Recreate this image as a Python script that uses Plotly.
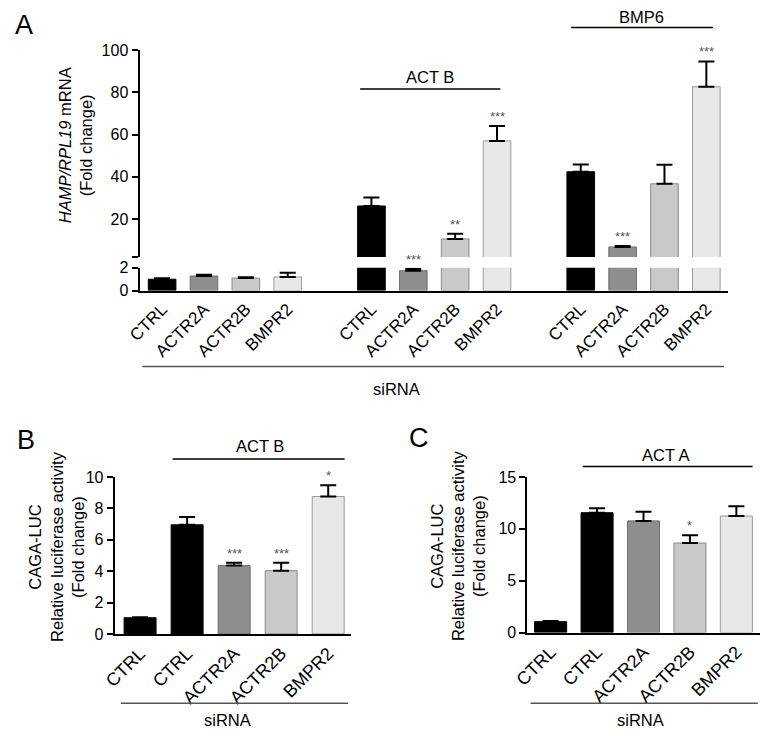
import plotly.graph_objects as go

W, H = 762, 736
FONT = "Liberation Sans, Arial, sans-serif"

# ---------------- data ----------------
A_groups = ["", "ACT B", "BMP6"]
A_sirna = ["CTRL", "ACTR2A", "ACTR2B", "BMPR2"]
A_values = [[1.00, 1.28, 1.10, 1.20],
            [26.2, 1.75, 10.6, 57.0],
            [42.4, 6.8, 36.7, 82.6]]
A_errors = [[0.08, 0.12, 0.08, 0.37],
            [4.0, 0.18, 2.5, 7.0],
            [3.4, 0.4, 9.0, 12.0]]
A_stars = [["", "", "", ""],
           ["", "***", "**", "***"],
           ["", "***", "", "***"]]

B_labels = ["CTRL", "CTRL", "ACTR2A", "ACTR2B", "BMPR2"]
B_values = [1.03, 6.95, 4.35, 4.03, 8.75]
B_errors = [0.03, 0.50, 0.18, 0.50, 0.72]
B_stars = ["", "", "***", "***", "*"]

C_labels = ["CTRL", "CTRL", "ACTR2A", "ACTR2B", "BMPR2"]
C_values = [1.05, 11.55, 10.76, 8.63, 11.23]
C_errors = [0.05, 0.42, 0.88, 0.75, 0.94]
C_stars = ["", "", "", "*", ""]

COLORS = {"CTRL": "#000000", "ACTR2A": "#8e8e8e", "ACTR2B": "#c9c9c9", "BMPR2": "#e7e7e7"}
EDGE = {"CTRL": "#000000", "ACTR2A": "#6e6e6e", "ACTR2B": "#8a8a8a", "BMPR2": "#9a9a9a"}


def py(p):
    return 1 - p / H


def px(p):
    return p / W


fig = go.Figure()


def err_dict(arr):
    return dict(type="data", array=arr, arrayminus=[0] * len(arr), symmetric=False,
                color="black", thickness=2, width=8)


# ---------------- Panel A ----------------
slots, labs, vals, errs, stars = [], [], [], [], []
for g, grp in enumerate(A_groups):
    for i, name in enumerate(A_sirna):
        slots.append(g * 5 + i)
        labs.append(name)
        vals.append(A_values[g][i])
        errs.append(A_errors[g][i])
        stars.append(A_stars[g][i])

small = [k for k in range(len(vals)) if vals[k] < 2]
big = [k for k in range(len(vals)) if vals[k] >= 2]

fig.add_trace(go.Bar(x=[slots[k] for k in small], y=[vals[k] for k in small],
                     width=0.66, xaxis="x", yaxis="y",
                     marker=dict(color=[COLORS[labs[k]] for k in small],
                                 line=dict(color=[EDGE[labs[k]] for k in small], width=1)),
                     error_y=err_dict([errs[k] for k in small]), showlegend=False))
fig.add_trace(go.Bar(x=[slots[k] for k in big], y=[vals[k] for k in big],
                     width=0.66, xaxis="x", yaxis="y",
                     marker=dict(color=[COLORS[labs[k]] for k in big],
                                 line=dict(color=[EDGE[labs[k]] for k in big], width=1)),
                     showlegend=False))
fig.add_trace(go.Bar(x=[slots[k] for k in big], y=[vals[k] for k in big],
                     width=0.66, xaxis="x", yaxis="y2",
                     marker=dict(color=[COLORS[labs[k]] for k in big],
                                 line=dict(color=[EDGE[labs[k]] for k in big], width=1)),
                     error_y=err_dict([errs[k] for k in big]), showlegend=False))

annotations = []
for k in range(len(vals)):
    if stars[k]:
        annotations.append(dict(x=slots[k], y=vals[k] + errs[k], xref="x",
                                yref="y" if vals[k] < 2 else "y2",
                                text=stars[k], showarrow=False, yanchor="bottom",
                                font=dict(size=13, color="#555555", family=FONT)))


# ---------------- Panels B, C ----------------
def small_panel(labels, values, errors, st, xa, ya, width):
    n = len(values)
    xs = list(range(n))
    fig.add_trace(go.Bar(x=xs, y=values, width=width, xaxis=xa, yaxis=ya,
                         marker=dict(color=[COLORS[l] for l in labels],
                                     line=dict(color=[EDGE[l] for l in labels], width=1)),
                         error_y=err_dict(errors), showlegend=False))
    for k in range(n):
        if st[k]:
            annotations.append(dict(x=xs[k], y=values[k] + errors[k], xref=xa, yref=ya,
                                    text=st[k], showarrow=False, yanchor="bottom",
                                    font=dict(size=13, color="#555555", family=FONT)))


small_panel(B_labels, B_values, B_errors, B_stars, "x2", "y3", 0.68)
small_panel(C_labels, C_values, C_errors, C_stars, "x3", "y4", 0.69)

# ---------------- axes ----------------
axis_common = dict(showline=True, linecolor="black", linewidth=2, showgrid=False,
                   zeroline=False, tickfont=dict(size=16, family=FONT, color="black"))
yax = dict(axis_common, ticks="outside", ticklen=6, tickwidth=2, tickcolor="black")
xax = dict(axis_common, ticks="", tickangle=-45)

fig.update_layout(
    xaxis=dict(xax, domain=[px(127), px(727)], range=[-0.54, 13.51], anchor="y",
               tickvals=slots, ticktext=labs, tickfont=dict(size=17, family=FONT)),
    yaxis=dict(yax, domain=[py(289.3), py(266)], range=[0, 2], tickvals=[0, 2], anchor="x"),
    yaxis2=dict(yax, domain=[py(255), py(43)], range=[2, 100],
                tickvals=[2, 20, 40, 60, 80, 100], ticktext=["", "20", "40", "60", "80", "100"],
                anchor="x"),
    xaxis2=dict(xax, domain=[px(101.7), px(343)], range=[-0.54, 4.49], anchor="y3",
                tickvals=list(range(len(B_labels))), ticktext=B_labels,
                tickfont=dict(size=18, family=FONT)),
    yaxis3=dict(yax, domain=[py(640.7), py(480)], range=[0, 10], dtick=2, anchor="x2"),
    xaxis3=dict(xax, domain=[px(522.7), px(760)], range=[-0.5, 4.51], anchor="y4",
                tickvals=list(range(len(C_labels))), ticktext=C_labels,
                tickfont=dict(size=18, family=FONT)),
    yaxis4=dict(yax, domain=[py(639.3), py(480)], range=[0, 15], dtick=5, anchor="x3"),
)

# ---------------- lines and texts ----------------
shapes = []


def hline(xref, x0, x1, ypx, color="black", w=1.5):
    shapes.append(dict(type="line", xref=xref, yref="paper", x0=x0, x1=x1,
                       y0=py(ypx), y1=py(ypx), line=dict(color=color, width=w)))


def text(xref, x, ypx, s, size=16.5):
    annotations.append(dict(x=x, y=py(ypx), xref=xref, yref="paper", text=s, showarrow=False,
                            xanchor="center", yanchor="middle",
                            font=dict(size=size, family=FONT, color="black")))


# Panel A
hline("x", 4.73, 8.08, 83)
text("x", 6.4, 71, "ACT B")
hline("x", 9.77, 13.16, 20)
text("x", 11.46, 9, "BMP6")
hline("x", -0.47, 13.42, 367, color="#555555")
text("x", 5.6, 390, "siRNA")
# Panel B
hline("x2", 0.69, 4.35, 461.7)
text("x2", 2.55, 448, "ACT B")
hline("x2", -0.41, 4.42, 711.7, color="#555555")
text("x2", 1.85, 729, "siRNA")
# Panel C
hline("x3", 0.69, 4.35, 469.3)
text("x3", 2.48, 458, "ACT A")
hline("x3", -0.43, 4.46, 711.7, color="#555555")
text("x3", 1.93, 729, "siRNA")


# y titles
def ytitle(xc, yc, s):
    annotations.append(dict(x=px(xc), y=py(yc), xref="paper", yref="paper", text=s,
                            textangle=-90, showarrow=False, xanchor="center", yanchor="middle",
                            font=dict(size=16.5, family=FONT, color="black")))


ytitle(61.7, 140, "<i>HAMP/RPL19</i> mRNA<br>(Fold change)")
ytitle(42.5, 551, "CAGA-LUC<br>Relative luciferase activity<br>(Fold change)")
ytitle(451.7, 550, "CAGA-LUC<br>Relative luciferase activity<br>(Fold change)")

# panel letters
for (xx, yy, s) in [(9, 17, "A"), (11, 442, "B"), (412, 440, "C")]:
    annotations.append(dict(x=px(xx), y=py(yy), xref="paper", yref="paper", text=s,
                            showarrow=False, xanchor="center", yanchor="middle",
                            font=dict(size=27, family=FONT, color="black")))

fig.update_layout(width=W, height=H, margin=dict(l=0, r=0, t=0, b=0),
                  paper_bgcolor="white", plot_bgcolor="white", barmode="overlay",
                  shapes=shapes, annotations=annotations,
                  font=dict(family=FONT, color="black"))

fig.write_html("out.html", config={"displayModeBar": False},
               post_script="document.body.style.margin='0px';")
